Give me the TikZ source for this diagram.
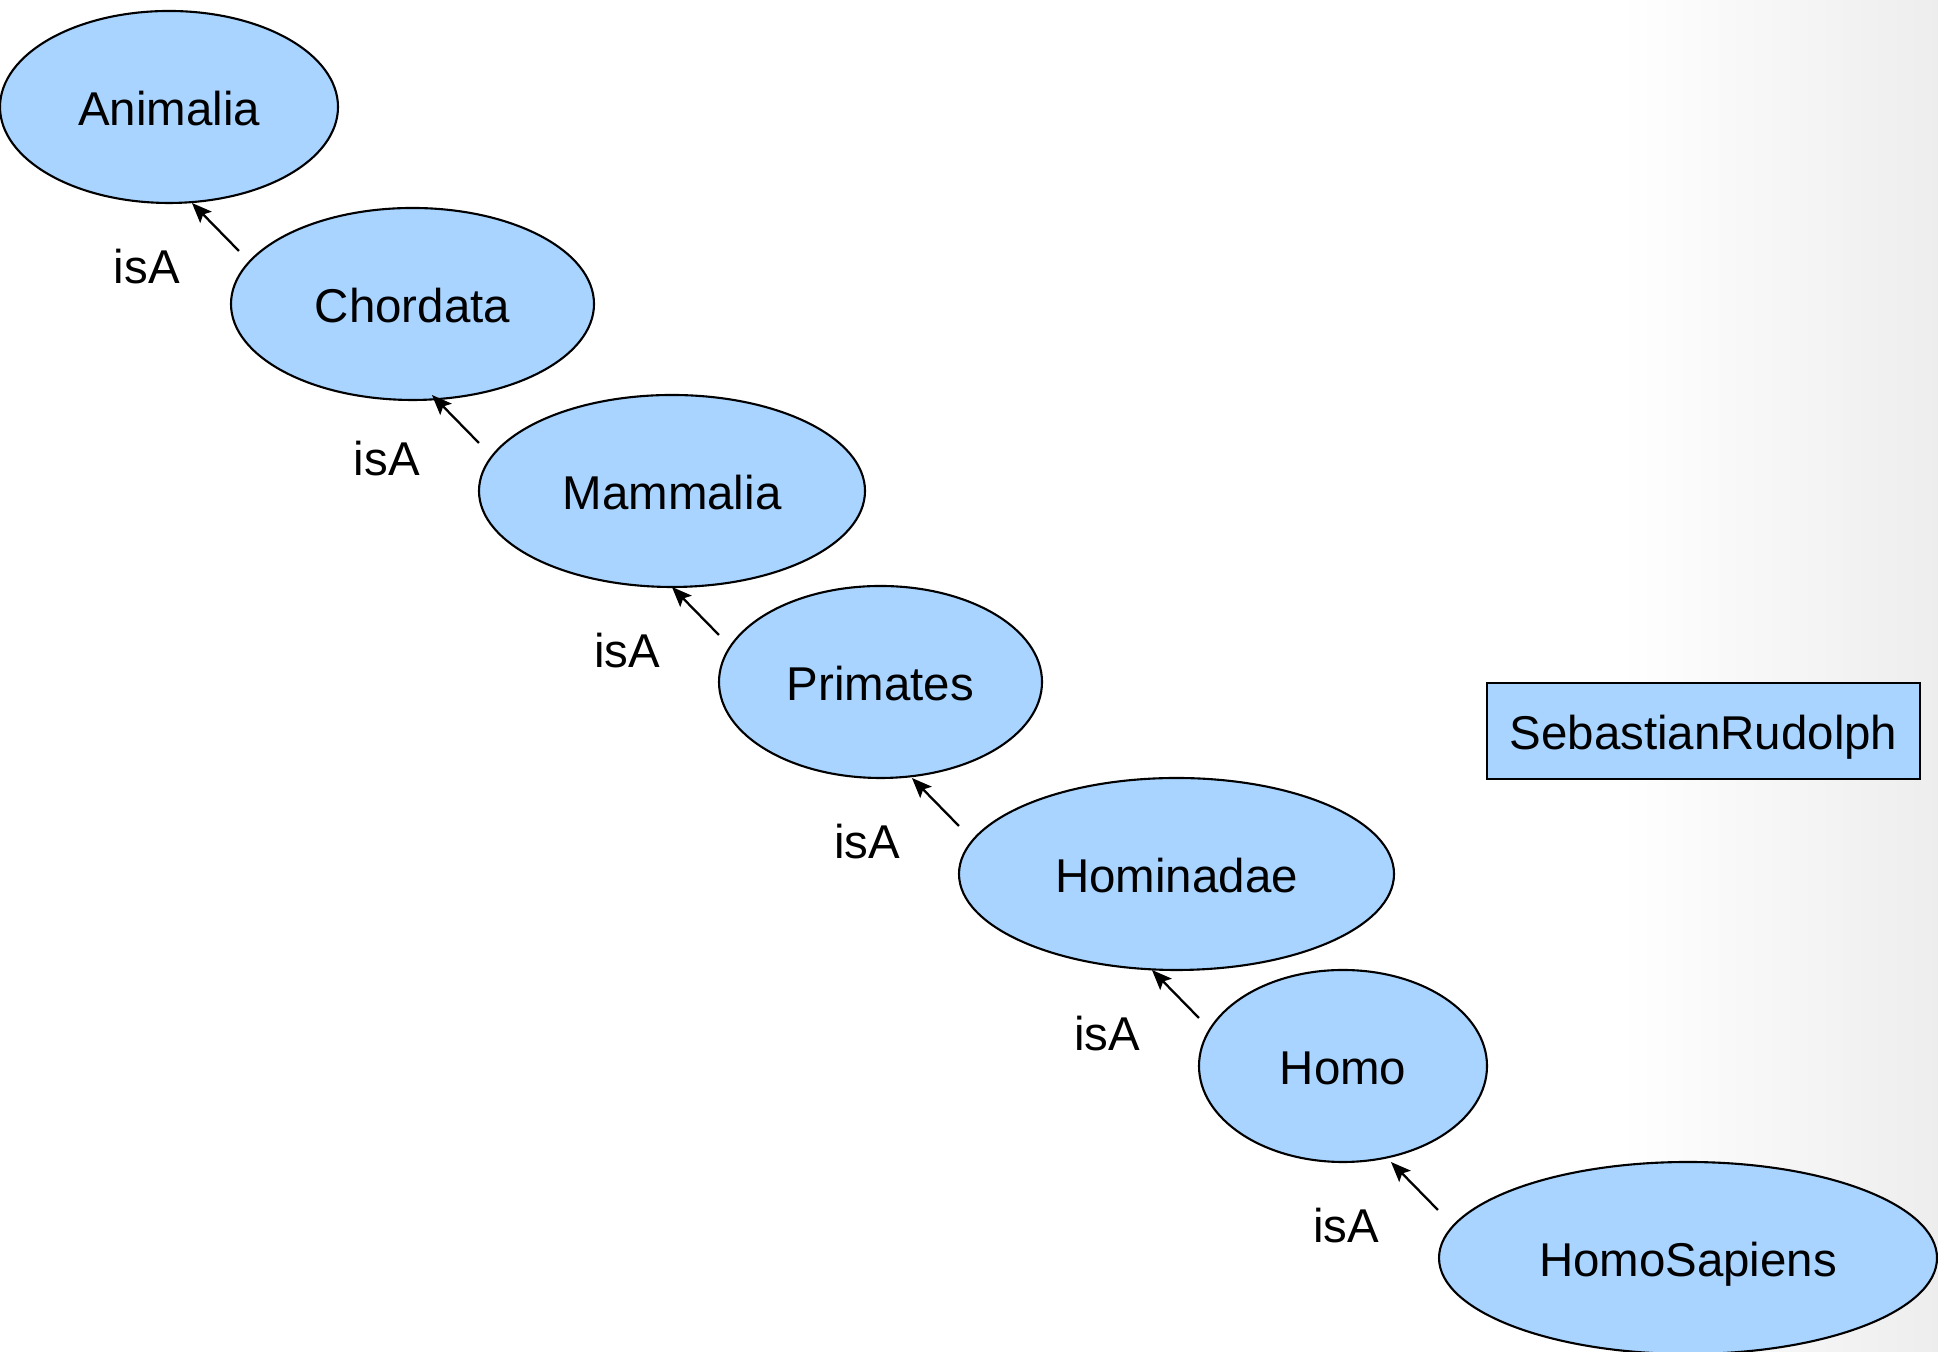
\documentclass[tikz,border=0pt]{standalone}
\usepackage{fontspec}
\setmainfont{Liberation Sans}
\usetikzlibrary{arrows.meta, shapes.geometric}
\definecolor{taxblue}{RGB}{168,212,255}

\begin{document}
\begin{tikzpicture}[
    >=Stealth,
    x=1cm, y=1cm,
    taxon/.style={draw, ellipse, fill=taxblue, line width=0.6pt, inner sep=0pt, minimum height=19.2mm, text height=12.8pt, text depth=2pt, font=\fontsize{13.5}{16}\selectfont},
    inst/.style={draw, rectangle, fill=taxblue, line width=0.6pt, inner sep=0pt, minimum width=43.3mm, minimum height=9.6mm, text height=12.8pt, text depth=2pt, font=\fontsize{13.5}{16}\selectfont},
    isa/.style={-{Stealth[length=2mm, width=1.6mm, inset=0.4mm]}, line width=0.65pt},
    lbl/.style={inner sep=0pt, font=\fontsize{13.5}{16}\selectfont},
  ]
    \useasboundingbox (0,0) rectangle (19.38,13.52);
    % ===== 背景（右端のうすいグレー）=====
    \shade[left color=white, right color=black!7] (16.2,0) rectangle (19.38,13.52);
    % ===== 分類の鎖（左上→右下）=====
    \node[taxon, minimum width=33.8mm] (animalia)    at (1.69,  12.45) {Animalia};
    \node[taxon, minimum width=36.3mm] (chordata)    at (4.125, 10.48) {Chordata};
    \node[taxon, minimum width=38.6mm] (mammalia)    at (6.72,   8.61) {Mammalia};
    \node[taxon, minimum width=32.3mm] (primates)    at (8.805,  6.70) {Primates};
    \node[taxon, minimum width=43.5mm] (hominadae)   at (11.765, 4.78) {Hominadae};
    \node[taxon, minimum width=28.8mm] (homo)        at (13.43,  2.86) {Homo};
    \node[taxon, minimum width=49.8mm] (homosapiens) at (16.88,  0.94) {HomoSapiens};
    % ===== 個体（箱）=====
    \node[inst] (rudolph) at (17.035, 6.21) {SebastianRudolph};

    % ===== isA（子の左上→親の下）=====
    \draw[isa] ([shift={(0.09,0.53)}]chordata.west)    -- ++(-0.47,0.48) node[lbl, pos=0, xshift=-9.2mm, yshift=-1.55mm] {isA};
    \draw[isa] ([shift={(0.01,0.48)}]mammalia.west)    -- ++(-0.47,0.48) node[lbl, pos=0, xshift=-9.2mm, yshift=-1.55mm] {isA};
    \draw[isa] ([shift={(0.01,0.47)}]primates.west)    -- ++(-0.47,0.48) node[lbl, pos=0, xshift=-9.2mm, yshift=-1.55mm] {isA};
    \draw[isa] ([shift={(0.01,0.48)}]hominadae.west)   -- ++(-0.47,0.48) node[lbl, pos=0, xshift=-9.2mm, yshift=-1.55mm] {isA};
    \draw[isa] ([shift={(0.01,0.48)}]homo.west)        -- ++(-0.47,0.48) node[lbl, pos=0, xshift=-9.2mm, yshift=-1.55mm] {isA};
    \draw[isa] ([shift={(0.00,0.48)}]homosapiens.west) -- ++(-0.47,0.48) node[lbl, pos=0, xshift=-9.2mm, yshift=-1.55mm] {isA};
  \end{tikzpicture}
\end{document}
